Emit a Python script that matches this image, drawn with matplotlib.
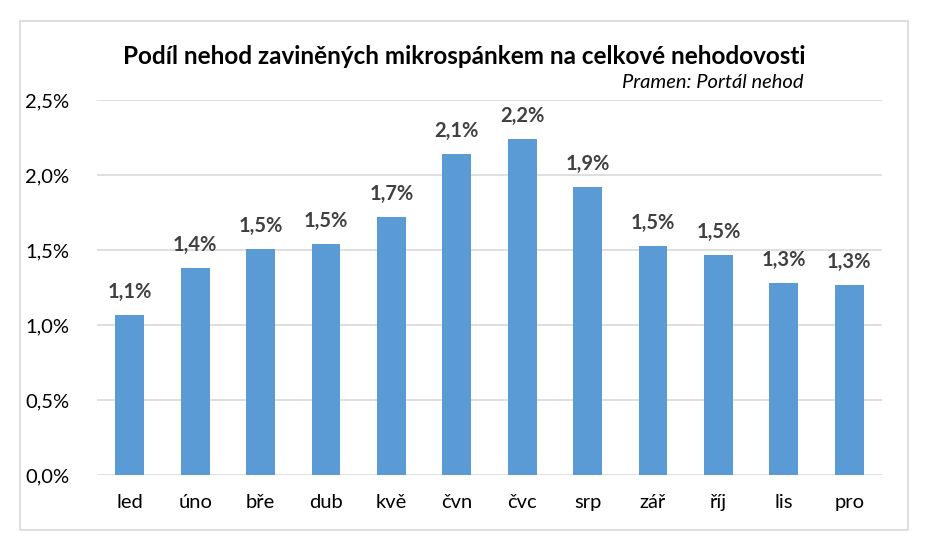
import matplotlib.pyplot as plt
from matplotlib.patches import Rectangle

months = ['led', 'úno', 'bře', 'dub', 'kvě', 'čvn', 'čvc', 'srp', 'zář', 'říj', 'lis', 'pro']
share = [1.07, 1.38, 1.51, 1.54, 1.72, 2.14, 2.24, 1.92, 1.53, 1.47, 1.28, 1.27]
y_ticks = [0.0, 0.5, 1.0, 1.5, 2.0, 2.5]

plt.rcParams['font.family'] = ['Lato', 'DejaVu Sans']

fig = plt.figure(figsize=(9.26, 5.43), dpi=100)
fig.patches.append(Rectangle((20 / 926, 1 - 530 / 543), 888 / 926, 509 / 543,
                             transform=fig.transFigure, fill=False,
                             edgecolor='#d9d9d9', linewidth=1.2))

ax = fig.add_axes([97 / 926, 1 - 475 / 543, 785 / 926, 375 / 543])
x = range(len(months))
ax.bar(x, share, width=0.44, color='#5b9bd5', zorder=2)
for i, v in enumerate(share):
    ax.text(i, v + 0.085, f'{v:.1f}%'.replace('.', ','), ha='center', va='bottom',
            fontsize=14.5, fontweight='bold', color='#404040')

ax.set_xlim(-0.5, len(months) - 0.5)
ax.set_ylim(0, 2.5)
ax.set_yticks(y_ticks)
ax.set_yticklabels([f'{t:.1f}%'.replace('.', ',') for t in y_ticks], fontsize=14.5)
ax.set_xticks(list(x))
ax.set_xticklabels(months, fontsize=14.5)
ax.tick_params(length=0, pad=14)
ax.tick_params(axis='y', pad=20)
ax.grid(axis='y', color='#d9d9d9', linewidth=1.2, zorder=0)
for s in ax.spines.values():
    s.set_visible(False)

fig.text(464 / 926, 1 - 57 / 543, 'Podíl nehod zaviněných mikrospánkem na celkové nehodovosti',
         ha='center', va='center', fontsize=17.5, fontweight='bold', color='black')
fig.text(803 / 926, 1 - 82 / 543, 'Pramen: Portál nehod', ha='right', va='center',
         fontsize=14.5, fontstyle='italic', color='black')

fig.savefig('out.png', dpi=100, facecolor='white')
